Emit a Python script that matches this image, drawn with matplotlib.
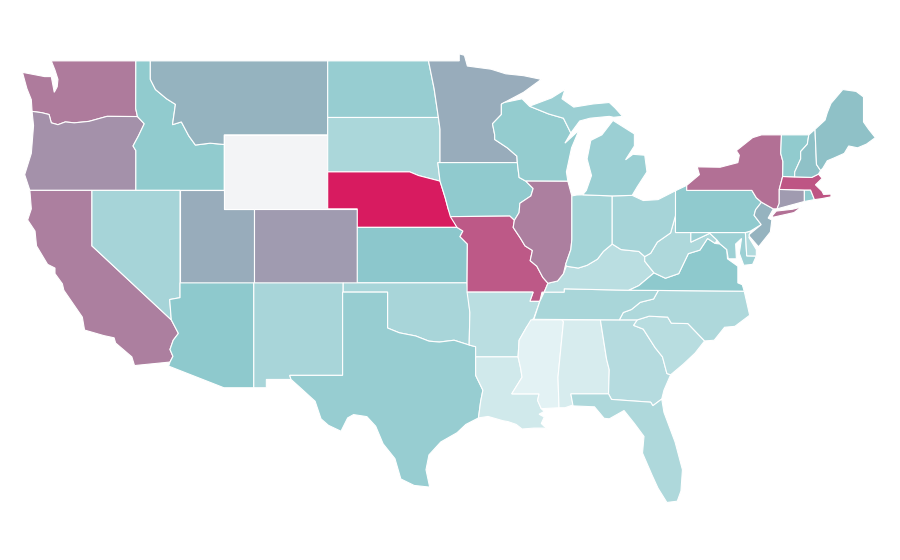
import matplotlib
matplotlib.use("Agg")
import matplotlib.pyplot as plt
from matplotlib.colors import LinearSegmentedColormap, Normalize

# state outlines, lon/lat
WA = [(-124.7,48.38),(-123.2,48.15),(-122.75,48.15),(-122.55,47.3),(-122.35,47.6),(-122.3,48.0),(-122.5,48.5),(-122.75,49),(-117.03,49),(-117.04,46.42),(-116.92,45.99),(-118.98,46),(-119.3,45.93),(-120.2,45.73),(-121.2,45.65),(-121.8,45.7),(-122.3,45.55),(-122.75,45.65),(-122.9,46.1),(-123.4,46.2),(-124.05,46.27),(-124.1,46.9),(-124.4,47.5)]
OR = [(-124.05,46.27),(-123.4,46.2),(-122.9,46.1),(-122.75,45.65),(-122.3,45.55),(-121.8,45.7),(-121.2,45.65),(-120.2,45.73),(-119.3,45.93),(-118.98,46),(-116.92,45.99),(-116.46,45.6),(-116.85,44.95),(-117.22,44.4),(-117.03,44.15),(-117.03,42),(-124.2,42),(-124.55,42.85),(-124.1,44),(-123.95,45.5)]
CA = [(-124.2,42),(-120,42),(-120,39),(-114.63,35),(-114.15,34.27),(-114.5,33.9),(-114.72,33.4),(-114.52,33.03),(-114.72,32.72),(-117.12,32.53),(-117.3,33),(-118.4,33.75),(-118.5,34.03),(-119.2,34.15),(-120.5,34.45),(-120.65,35.15),(-121.9,36.6),(-122,36.95),(-122.5,37.5),(-122.5,37.8),(-123,38),(-123.75,39),(-123.85,39.8),(-124.35,40.4),(-124.1,41)]
ID = [(-117.03,49),(-116.05,49),(-116.05,48),(-115.7,47.45),(-114.95,46.95),(-114.35,46.65),(-114.55,45.55),(-113.95,45.7),(-113.45,44.95),(-113,44.45),(-112,44.55),(-111.05,44.48),(-111.05,42),(-117.03,42),(-117.03,44.15),(-117.22,44.4),(-116.85,44.95),(-116.46,45.6),(-116.92,45.99),(-117.04,46.42)]
NV = [(-120,42),(-114.04,42),(-114.04,36.2),(-114.74,36.1),(-114.63,35),(-120,39)]
UT = [(-114.04,42),(-111.05,42),(-111.05,41),(-109.05,41),(-109.05,37),(-114.04,37)]
AZ = [(-114.04,37),(-109.05,37),(-109.05,31.33),(-111.07,31.33),(-114.81,32.5),(-114.72,32.72),(-114.52,33.03),(-114.72,33.4),(-114.5,33.9),(-114.15,34.27),(-114.63,35),(-114.74,36.1),(-114.04,36.2)]
MT = [(-116.05,49),(-104.05,49),(-104.05,45),(-111.05,45),(-111.05,44.48),(-112,44.55),(-113,44.45),(-113.45,44.95),(-113.95,45.7),(-114.55,45.55),(-114.35,46.65),(-114.95,46.95),(-115.7,47.45),(-116.05,48)]
WY = [(-111.05,45),(-104.05,45),(-104.05,41),(-111.05,41)]
CO = [(-109.05,41),(-102.05,41),(-102.05,37),(-109.05,37)]
NM = [(-109.05,37),(-103,37),(-103.04,32),(-106.62,32),(-106.53,31.78),(-108.2,31.78),(-108.2,31.33),(-109.05,31.33)]
ND = [(-104.05,49),(-97.23,49),(-96.85,47.5),(-96.56,45.94),(-104.05,45.94)]
SD = [(-104.05,45.94),(-96.56,45.94),(-96.45,45.3),(-96.45,43.5),(-96.6,43.5),(-96.45,42.5),(-97.9,42.8),(-98.5,43),(-104.05,43)]
NE = [(-104.05,43),(-98.5,43),(-97.9,42.8),(-96.45,42.5),(-96.1,41.6),(-95.9,41),(-95.3,40),(-102.05,40),(-102.05,41),(-104.05,41)]
KS = [(-102.05,40),(-95.3,40),(-94.9,39.8),(-95.1,39.5),(-94.6,39.1),(-94.62,37),(-102.05,37)]
OK = [(-103,37),(-94.62,37),(-94.43,35.4),(-94.48,33.64),(-95.5,33.9),(-96.5,33.8),(-97.2,33.85),(-98.1,34.13),(-99.2,34.3),(-100,34.56),(-100,36.5),(-103,36.5)]
TX = [(-106.62,32),(-103.04,32),(-103.04,36.5),(-100,36.5),(-100,34.56),(-99.2,34.3),(-98.1,34.13),(-97.2,33.85),(-96.5,33.8),(-95.5,33.9),(-94.48,33.64),(-94.04,33.55),(-94.04,32),(-93.55,31.2),(-93.7,30.6),(-93.85,29.7),(-94.7,29.35),(-95.3,28.9),(-96.4,28.4),(-97.2,27.7),(-97.4,26.9),(-97.15,25.96),(-98.2,26.05),(-99.1,26.4),(-99.5,27.5),(-100.3,28.3),(-100.8,29.25),(-101.4,29.77),(-102.3,29.88),(-102.7,29.7),(-103.15,28.98),(-104,29.3),(-104.5,29.65),(-104.9,30.6),(-106,31.4),(-106.53,31.78)]
MN = [(-97.23,49),(-95.15,49),(-95.15,49.38),(-94.8,49.3),(-94.6,48.72),(-93,48.55),(-92,48.3),(-90.8,48.2),(-89.6,48),(-90.8,47.3),(-92.1,46.75),(-92.3,46.66),(-92.3,46.1),(-92.9,45.6),(-92.75,45),(-92.75,44.75),(-91.9,44.3),(-91.25,43.85),(-91.22,43.5),(-96.45,43.5),(-96.45,45.3),(-96.56,45.94),(-96.85,47.5)]
IA = [(-96.6,43.5),(-91.22,43.5),(-91.1,42.7),(-90.65,42.5),(-90.15,42.1),(-90.3,41.7),(-91.05,41.3),(-91.1,40.8),(-91.42,40.38),(-91.73,40.61),(-95.75,40.58),(-95.9,41),(-96.1,41.6),(-96.45,42.5)]
MO = [(-95.75,40.58),(-91.73,40.61),(-91.42,40.38),(-91.5,40),(-91,39.4),(-90.7,39),(-90.2,38.75),(-90.35,38.2),(-89.9,37.9),(-89.5,37.3),(-89.15,36.98),(-89.4,36.5),(-89.55,36.5),(-89.7,36),(-90.37,36),(-90.15,36.5),(-94.62,36.5),(-94.62,37),(-94.6,39.1),(-95.1,39.5),(-94.9,39.8),(-95.3,40)]
AR = [(-94.62,36.5),(-90.15,36.5),(-90.37,36),(-89.7,36),(-90.1,35.1),(-90.6,34.6),(-91.1,33.9),(-91.17,33),(-94.04,33),(-94.04,33.55),(-94.48,33.64),(-94.43,35.4)]
LA = [(-94.04,33),(-91.17,33),(-91,32.4),(-90.9,31.9),(-91.6,31),(-89.75,31),(-89.85,30.65),(-89.6,30.2),(-89.4,30.05),(-89.75,29.9),(-89.4,29.75),(-89.6,29.4),(-89.15,29.05),(-89.45,29.15),(-90.1,29.15),(-90.9,29.1),(-91.3,29.35),(-91.85,29.5),(-92.2,29.55),(-93.2,29.78),(-93.85,29.7),(-93.7,30.6),(-93.55,31.2),(-94.04,32)]
MS = [(-90.3,35),(-88.2,35),(-88.1,34.9),(-88.47,31.9),(-88.4,30.25),(-89.6,30.2),(-89.85,30.65),(-89.75,31),(-91.6,31),(-90.9,31.9),(-91,32.4),(-91.17,33),(-91.1,33.9),(-90.6,34.6)]
AL = [(-88.2,35),(-85.6,35),(-85.18,32.87),(-85,32.3),(-85.05,31),(-87.6,31),(-87.45,30.4),(-88,30.25),(-88.4,30.25),(-88.47,31.9),(-88.1,34.9)]
GA = [(-85.6,35),(-83.1,35),(-83.35,34.7),(-82.7,34.5),(-81.9,33.5),(-81.4,33),(-81.1,32.1),(-80.85,32.03),(-81.3,31.2),(-81.45,30.72),(-82.05,30.36),(-82.2,30.55),(-84.85,30.7),(-85.05,31),(-85,32.3),(-85.18,32.87)]
FL = [(-87.6,31),(-85.05,31),(-84.85,30.7),(-82.2,30.55),(-82.05,30.36),(-81.45,30.72),(-81.3,30),(-80.55,28.4),(-80.05,26.9),(-80.15,25.75),(-80.4,25.2),(-81.1,25.13),(-81.7,25.9),(-82.1,26.6),(-82.75,27.8),(-82.65,28.7),(-83.3,29.4),(-84,30.1),(-85,29.65),(-85.35,29.68),(-86,30.3),(-87.45,30.35)]
SC = [(-83.35,34.7),(-83.1,35),(-82.3,35.2),(-81.05,35.15),(-80.8,34.82),(-79.68,34.8),(-78.55,33.86),(-79.2,33.2),(-80,32.6),(-80.85,32.03),(-81.1,32.1),(-81.4,33),(-81.9,33.5),(-82.7,34.5)]
NC = [(-84.32,35),(-84.05,35.4),(-83.5,35.56),(-82.9,35.95),(-82,36.13),(-81.68,36.59),(-75.87,36.55),(-75.5,35.25),(-76.5,34.65),(-77.2,34.6),(-77.9,33.9),(-78.55,33.86),(-79.68,34.8),(-80.8,34.82),(-81.05,35.15),(-82.3,35.2),(-83.1,35)]
TN = [(-90.1,35.03),(-84.32,35),(-84.05,35.4),(-83.5,35.56),(-82.9,35.95),(-82,36.13),(-81.68,36.59),(-83.68,36.6),(-86.5,36.65),(-88.05,36.68),(-88.05,36.5),(-89.4,36.5),(-89.7,36)]
KY = [(-89.4,36.5),(-88.05,36.5),(-88.05,36.68),(-86.5,36.65),(-83.68,36.6),(-83,36.85),(-81.97,37.54),(-82.6,38.17),(-82.6,38.42),(-83,38.7),(-84.2,38.8),(-84.8,39.1),(-85.4,38.7),(-85.8,38.28),(-86.5,37.95),(-87.1,37.8),(-87.9,37.9),(-88.1,37.5),(-88.5,37.1),(-89.15,36.98)]
VA = [(-83.68,36.6),(-81.68,36.59),(-75.87,36.55),(-76,36.9),(-76.3,37),(-76.3,37.9),(-77,38.3),(-77.05,38.8),(-77.5,39.1),(-77.83,39.13),(-78.35,39.4),(-78.87,38.77),(-79.65,38.58),(-80.3,37.5),(-81.2,37.25),(-81.97,37.54),(-83,36.85)]
WV = [(-81.97,37.54),(-81.2,37.25),(-80.3,37.5),(-79.65,38.58),(-78.87,38.77),(-78.35,39.4),(-77.83,39.13),(-77.72,39.32),(-78.2,39.68),(-79.48,39.2),(-79.48,39.72),(-80.52,39.72),(-80.52,40.64),(-80.85,39.7),(-81.75,39.2),(-82.2,38.6),(-82.6,38.42),(-82.6,38.17)]
MD = [(-79.48,39.72),(-75.79,39.72),(-75.7,38.46),(-75.05,38.45),(-75.3,38),(-75.9,37.95),(-76.2,38.6),(-76.05,39.4),(-76.45,39.1),(-76.4,38.3),(-76.95,38.3),(-77.05,38.8),(-77.5,39.1),(-77.72,39.32),(-78.2,39.68),(-79.48,39.2)]
DE = [(-75.79,39.72),(-75.45,39.8),(-75.55,39.45),(-75.05,38.8),(-75.05,38.45),(-75.7,38.46)]
PA = [(-80.52,41.98),(-79.76,42.27),(-79.76,42),(-75.35,42),(-75.05,41.6),(-74.7,41.36),(-75.1,40.95),(-75.2,40.65),(-74.72,40.15),(-75.45,39.8),(-75.79,39.72),(-80.52,39.72)]
NJ = [(-74.7,41.36),(-73.9,41),(-74.25,40.5),(-74,40.4),(-74.1,39.75),(-74.9,38.95),(-75.5,39.5),(-75.55,39.6),(-74.72,40.15),(-75.2,40.65),(-75.1,40.95)]
NY = [(-79.76,42),(-79.76,42.27),(-78.9,42.85),(-79.05,43.27),(-77.5,43.25),(-76.3,43.5),(-76.2,43.9),(-76.4,44.15),(-75.3,44.85),(-74.7,45),(-73.35,45),(-73.4,44),(-73.25,43.55),(-73.27,42.75),(-73.5,42.05),(-73.5,41.3),(-73.65,41),(-73.9,41),(-74.7,41.36),(-75.05,41.6),(-75.35,42)]
NY_LI = [(-74,40.6),(-73.7,40.88),(-72.6,40.98),(-72,41.1),(-72.5,40.8),(-73.9,40.55)]
CT = [(-73.5,42.05),(-71.8,42.02),(-71.8,41.4),(-73.65,41),(-73.5,41.3)]
RI = [(-71.8,42.02),(-71.38,42.02),(-71.12,41.5),(-71.8,41.4)]
MA = [(-73.5,42.05),(-73.27,42.75),(-71.3,42.7),(-70.85,42.88),(-70.6,42.65),(-71.05,42.3),(-70.6,41.95),(-70.5,41.78),(-70,41.8),(-70,41.65),(-70.65,41.55),(-71.12,41.5),(-71.38,42.02),(-71.8,42.02)]
VT = [(-73.35,45),(-71.5,45),(-71.6,44.5),(-72.05,44.1),(-72.05,43.7),(-72.45,43),(-72.46,42.73),(-73.27,42.75),(-73.25,43.55),(-73.4,44)]
NH = [(-71.5,45),(-71.08,45.3),(-70.98,43.4),(-70.7,43.07),(-70.85,42.88),(-71.3,42.7),(-72.46,42.73),(-72.45,43),(-72.05,43.7),(-72.05,44.1),(-71.6,44.5)]
ME = [(-71.08,45.3),(-70.4,45.8),(-70.25,46.2),(-70,46.7),(-69.2,47.45),(-68.3,47.35),(-67.8,47.05),(-67.8,45.7),(-67.45,45.3),(-67,44.85),(-67.6,44.5),(-68.2,44.3),(-68.8,44.4),(-69.1,44),(-69.8,43.75),(-70.25,43.6),(-70.55,43.2),(-70.7,43.07),(-70.98,43.4)]
WI = [(-92.3,46.66),(-92.1,46.75),(-90.9,46.95),(-90.4,46.55),(-89.1,46.13),(-88.1,45.9),(-87.6,45.1),(-88,44.55),(-87.05,45.25),(-87.55,44.3),(-87.9,43),(-87.8,42.49),(-90.65,42.5),(-91.1,42.7),(-91.22,43.5),(-91.25,43.85),(-91.9,44.3),(-92.75,44.75),(-92.75,45),(-92.9,45.6),(-92.3,46.1)]
IL = [(-90.65,42.5),(-87.8,42.49),(-87.55,41.75),(-87.53,41.7),(-87.53,39.35),(-87.6,38.8),(-87.95,38),(-88.1,37.5),(-88.5,37.1),(-89.15,36.98),(-89.5,37.3),(-89.9,37.9),(-90.35,38.2),(-90.2,38.75),(-90.7,39),(-91,39.4),(-91.5,40),(-91.42,40.38),(-91.1,40.8),(-91.05,41.3),(-90.3,41.7),(-90.15,42.1)]
IN = [(-87.53,41.7),(-87.2,41.75),(-86.8,41.76),(-84.8,41.7),(-84.8,39.1),(-85.4,38.7),(-85.8,38.28),(-86.5,37.95),(-87.1,37.8),(-87.9,37.9),(-87.95,38),(-87.6,38.8),(-87.53,39.35)]
OH = [(-84.8,41.7),(-83.45,41.73),(-82.7,41.45),(-81.7,41.5),(-80.52,41.98),(-80.52,40.64),(-80.85,39.7),(-81.75,39.2),(-82.2,38.6),(-82.6,38.42),(-83,38.7),(-84.2,38.8),(-84.8,39.1)]
MI = [(-86.8,41.76),(-84.8,41.7),(-83.45,41.73),(-83.1,42.2),(-82.45,43),(-82.6,43.9),(-83.4,43.95),(-83.9,43.65),(-83.3,44.4),(-83.3,45.05),(-84.75,45.78),(-85.5,45),(-86.25,44.7),(-86.5,43.7),(-86.2,42.8),(-86.55,42)]
MI_UP = [(-90.4,46.55),(-89.1,46.13),(-88.1,45.9),(-87.6,45.1),(-87,45.75),(-86.3,45.9),(-85,46),(-84.7,45.95),(-84.1,46),(-84.6,46.45),(-85,46.75),(-86.1,46.67),(-87.4,46.5),(-88.2,46.95),(-88,47.45),(-88.9,47)]

state_names = ["WA","OR","CA","ID","NV","UT","AZ","MT","WY","CO","NM","ND","SD","NE","KS","OK","TX","MN","IA","MO","AR","LA","MS","AL","GA","FL","SC","NC","TN","KY","VA","WV","MD","DE","PA","NJ","NY","CT","RI","MA","VT","NH","ME","WI","IL","IN","OH","MI"]
state_shapes = [[WA],[OR],[CA],[ID],[NV],[UT],[AZ],[MT],[WY],[CO],[NM],[ND],[SD],[NE],[KS],[OK],[TX],[MN],[IA],[MO],[AR],[LA],[MS],[AL],[GA],[FL],[SC],[NC],[TN],[KY],[VA],[WV],[MD],[DE],[PA],[NJ],[NY,NY_LI],[CT],[RI],[MA],[VT],[NH],[ME],[WI],[IL],[IN],[OH],[MI,MI_UP]]
state_values = [72,66,71,47,36,58,49,56,None,63,35,44,33,100,50,35,44,58,48,82,25,13,3,9,28,32,26,32,34,25,49,32,41,30,48,56,75,63,48,83,47,52,52,46,71,37,36,42]

cmap = LinearSegmentedColormap.from_list("teal_red", ["#e8f4f6", "#8cc8cc", "#d81b60"])
norm = Normalize(0, 100)

fig = plt.figure(figsize=(9, 5.6), dpi=100)
ax = fig.add_axes([0, 0, 1, 1])
for name, rings, val in zip(state_names, state_shapes, state_values):
    color = "#f3f4f6" if val is None else cmap(norm(val))
    for ring in rings:
        lons = [p[0] for p in ring]
        lats = [p[1] for p in ring]
        ax.fill(lons, lats, facecolor=color, edgecolor="white", linewidth=0.8, label=name)

# plain lon/lat scale of the map
ax.set_xlim(-126.22, -65.33)
ax.set_ylim(22.02, 52.29)
ax.axis("off")
fig.savefig("out.png", dpi=100)
